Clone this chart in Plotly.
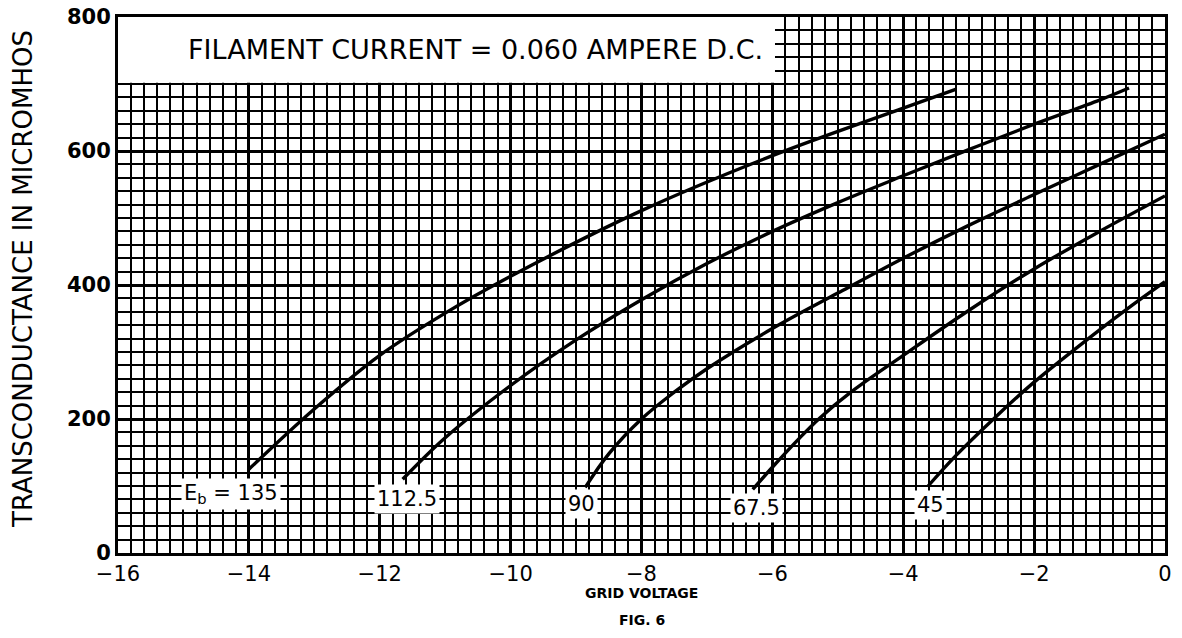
import plotly.graph_objects as go

# ---- data ----
x_135 = [-14.0, -13.0, -12.0, -11.0, -10.0, -8.0, -6.0, -4.0, -3.2]
y_135 = [125, 215, 295, 358, 413, 511, 593, 664, 692]

x_112 = [-11.65, -11.0, -10.0, -9.0, -8.0, -7.0, -6.0, -5.0, -4.0, -3.0, -2.0, -1.0, -0.55]
y_112 = [110, 172, 250, 318, 378, 432, 480, 523, 563, 602, 640, 676, 694]

x_90 = [-8.86, -8.5, -8.0, -7.5, -7.0, -6.0, -5.0, -4.0, -3.0, -2.0, -1.0, 0.0]
y_90 = [98, 148, 200, 240, 275, 335, 388, 440, 489, 535, 580, 625]

x_67 = [-6.3, -6.0, -5.6, -5.27, -4.8, -4.0, -3.0, -2.0, -1.0, 0.0]
y_67 = [95, 128, 170, 202, 240, 295, 362, 424, 480, 533]

x_45 = [-3.62, -3.2, -2.6, -2.0, -1.0, -0.5, 0.0]
y_45 = [100, 145, 202, 255, 333, 370, 405]

series = [(x_135, y_135), (x_112, y_112), (x_90, y_90), (x_67, y_67), (x_45, y_45)]

curve_labels = ["E<sub>b</sub> = 135", "112.5", "90", "67.5", "45"]
label_x = [-14.28, -11.58, -8.91, -6.24, -3.58]
label_y = [88, 80, 73, 67, 71]

x_ticks = [-16, -14, -12, -10, -8, -6, -4, -2, 0]
y_ticks = [0, 200, 400, 600, 800]

box_text = "FILAMENT CURRENT = 0.060 AMPERE D.C."

FONT = "DejaVu Sans"

fig = go.Figure()
for xs, ys in series:
    fig.add_trace(go.Scatter(x=xs, y=ys, mode="lines",
                             line=dict(color="black", width=3.4, shape="spline", smoothing=1.0),
                             showlegend=False, hoverinfo="skip"))

# white box for the title text
fig.add_shape(type="rect", xref="x", yref="y", x0=-16, x1=-5.96, y0=702, y1=800,
              fillcolor="white", line=dict(width=0), layer="above")
fig.add_annotation(x=-10.53, y=751, xref="x", yref="y", text=box_text, showarrow=False,
                   font=dict(family=FONT, size=27, color="black"))

for t, lx, ly in zip(curve_labels, label_x, label_y):
    fig.add_annotation(x=lx, y=ly, xref="x", yref="y", text=t, showarrow=False,
                       bgcolor="white", borderpad=2,
                       font=dict(family=FONT, size=21, color="black"))

# axis titles
fig.add_annotation(x=0, y=0.5, xref="paper", yref="paper", xshift=-112, yshift=6,
                   text="TRANSCONDUCTANCE IN MICROMHOS", textangle=-90, showarrow=False,
                   font=dict(family=FONT, size=26, color="black"))
fig.add_annotation(x=0.5, y=0, xref="paper", yref="paper", yshift=-50,
                   text="GRID VOLTAGE", showarrow=False,
                   font=dict(family=FONT, size=14, color="black", weight=700))
fig.add_annotation(x=0.5, y=0, xref="paper", yref="paper", yshift=-77,
                   text="FIG. 6", showarrow=False,
                   font=dict(family=FONT, size=14, color="black", weight=700))

fig.update_xaxes(range=[-16, 0], tickvals=x_ticks,
                 ticktext=["\u2212" + str(-v) if v else "0" for v in x_ticks],
                 showgrid=True, gridcolor="black", gridwidth=3,
                 minor=dict(dtick=0.2, tick0=0, showgrid=True, gridcolor="black", gridwidth=1.7),
                 showline=True, linecolor="black", linewidth=3, mirror=True,
                 ticks="", zeroline=False, ticklabeloverflow="allow",
                 tickfont=dict(family=FONT, size=21, color="black"))
fig.update_yaxes(range=[0, 800], tickvals=y_ticks,
                 showgrid=True, gridcolor="black", gridwidth=3,
                 minor=dict(dtick=20, tick0=0, showgrid=True, gridcolor="black", gridwidth=1.7),
                 showline=True, linecolor="black", linewidth=3, mirror=True,
                 ticks="", zeroline=False, ticklabeloverflow="allow",
                 tickfont=dict(family=FONT, size=21, color="black", weight=700))

# the page body adds an 8px offset, so the figure is sized to fit the 1182x638 window
fig.update_layout(width=1174, height=630,
                  margin=dict(l=110, r=17, t=9, b=85, autoexpand=False),
                  plot_bgcolor="white", paper_bgcolor="white")

fig.write_html("out.html")
